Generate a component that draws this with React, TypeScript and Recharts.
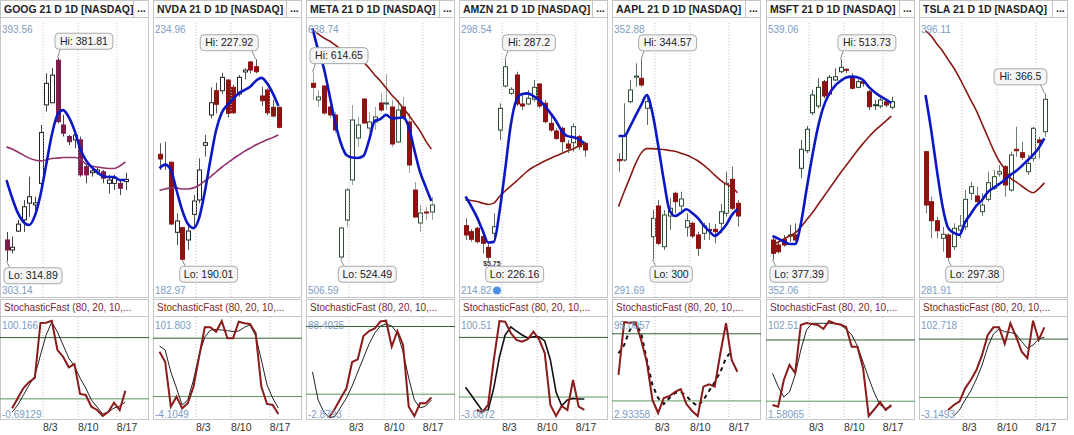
import React from 'react';
import { ComposedChart, Bar, Line, XAxis, YAxis, ReferenceLine, ReferenceDot } from 'recharts';

// ---------- shared axis data ----------
const DATE_TICKS = [6.45, 12.65, 19.5];
const DATE_LABELS = ['8/3', '8/10', '8/17'];
const X_DOMAIN: [number, number] = [-1.15, 25.18];

// ---------- GOOG ----------
const GOOG_O = [321.9, 318.6, 324.8, 328.5, 334.0, 333.4, 340.5, 366.3, 367.0, 381.0, 359.7, 355.9, 354.8, 354.8, 346.0, 344.0, 344.2, 344.3, 340.5, 340.5, 340.5, 341.1];
const GOOG_H = [324.5, 323.0, 328.5, 335.0, 342.7, 336.1, 359.7, 376.7, 378.4, 381.81, 363.0, 356.4, 357.5, 355.9, 347.1, 345.5, 346.0, 344.9, 343.3, 343.3, 341.6, 344.0];
const GOOG_L = [314.89, 317.5, 324.5, 324.5, 329.5, 331.7, 339.4, 364.1, 366.9, 360.3, 355.9, 353.1, 352.0, 342.7, 340.5, 342.7, 343.3, 340.5, 337.2, 338.3, 336.7, 338.3];
const GOOG_C = [318.6, 319.5, 327.1, 332.8, 336.1, 334.1, 357.2, 373.4, 376.1, 360.8, 357.0, 354.2, 356.4, 343.3, 343.3, 344.6, 344.9, 342.2, 341.6, 342.2, 338.9, 341.8];
const GOOG_FAST = [341.6, 335.7, 330.8, 327.8, 326.8, 329.8, 336.7, 346.5, 356.4, 363.0, 364.6, 362.3, 358.0, 352.1, 348.2, 345.9, 344.2, 342.9, 342.6, 342.6, 341.6, 341.6];
const GOOG_SLOW = [352.5, 351.8, 350.8, 349.8, 348.8, 348.2, 347.9, 348.2, 348.7, 348.8, 349.0, 349.0, 349.0, 348.5, 346.9, 346.2, 345.9, 345.6, 345.4, 345.4, 346.2, 347.6];
const GOOG_K = [null, 10.8, 20.8, 30.6, 36.5, 40.4, 94.3, 94.6, 96.5, 67.8, 61.3, 50.9, 54.1, 24.8, 23.8, 12.3, 9.1, 3.2, 7.4, 16.2, 9.1, 28.0];
const GOOG_D = [null, 7.1, 14.0, 23.8, 33.6, 42.4, 62.9, 82.5, 95.3, 85.5, 72.7, 60.0, 52.2, 40.4, 30.6, 18.9, 12.0, 5.2, 7.1, 11.0, 13.0, 16.9];
const GOOG_RANGE = [303.14, 393.56];
const GOOG_STOCH_RANGE = [-0.69129, 100.166];

// ---------- NVDA ----------
const NVDA_O = [209.95, 207.8, 208.44, 195.2, 196.07, 193.75, 198.6, 201.31, 211.65, 217.38, 221.97, 221.97, 223.99, 222.61, 221.35, 225.51, 227.4, 226.51, 220.97, 222.1, 218.83, 218.83];
const NVDA_H = [212.03, 212.33, 208.55, 198.79, 196.26, 196.9, 202.25, 209.19, 213.6, 222.61, 223.48, 225.37, 224.13, 223.05, 224.94, 226.21, 227.6, 227.92, 222.73, 222.42, 220.21, 218.95];
const NVDA_L = [206.98, 206.98, 196.58, 192.8, 190.01, 191.86, 196.26, 200.68, 209.49, 216.75, 217.7, 221.35, 216.94, 217.57, 220.84, 224.13, 225.26, 225.26, 219.08, 217.38, 216.94, 214.86];
const NVDA_C = [209.06, 208.0, 196.77, 197.34, 190.1, 195.45, 201.12, 206.98, 212.14, 219.7, 219.4, 224.5, 217.7, 217.81, 224.5, 225.88, 225.88, 225.56, 220.08, 217.81, 217.19, 215.05];
const NVDA_FAST = [207.3, 208.0, 207.0, 203.2, 199.4, 196.8, 196.0, 197.9, 202.8, 208.9, 214.5, 217.8, 219.3, 220.4, 221.5, 222.1, 222.7, 223.8, 224.4, 223.4, 221.5, 219.1];
const NVDA_SLOW = [203.1, 203.4, 203.6, 203.6, 203.4, 203.4, 203.6, 204.1, 204.9, 205.7, 206.6, 207.5, 208.3, 209.1, 209.8, 210.5, 211.1, 211.7, 212.2, 212.7, 213.1, 213.6];
const NVDA_K = [66.1, 55.8, 9.6, 19.9, 7.9, 13.1, 30.1, 61.0, 91.2, 91.2, 86.7, 97.7, 79.9, 79.9, 97.0, 95.3, 94.6, 85.0, 30.1, 12.4, 11.3, 2.1];
const NVDA_D = [72.0, 67.9, 45.3, 28.8, 11.3, 16.5, 37.0, 62.7, 81.2, 88.4, 89.0, 88.4, 87.7, 86.9, 87.4, 91.2, 93.6, 82.3, 57.6, 31.9, 18.5, 8.2];
const NVDA_RANGE = [182.97, 234.96];
const NVDA_STOCH_RANGE = [-4.1049, 101.803];

// ---------- META ----------
const META_O = [609.28, 601.26, 607.99, 597.89, 594.05, 525.81, 543.59, 562.81, 583.0, 601.74, 587.8, 590.69, 599.82, 599.34, 597.89, 581.08, 597.89, 590.69, 558.01, 542.15, 547.44, 547.44];
const META_H = [614.65, 606.06, 608.47, 601.26, 595.49, 540.23, 558.97, 598.86, 593.09, 602.2, 595.49, 597.89, 604.62, 613.75, 601.26, 601.26, 602.7, 595.01, 561.85, 550.8, 549.84, 554.65];
const META_L = [601.26, 597.89, 594.05, 592.61, 585.4, 524.49, 540.23, 560.41, 578.67, 589.73, 585.88, 586.84, 595.49, 596.45, 578.67, 580.59, 591.65, 566.18, 544.55, 537.83, 543.59, 543.59];
const META_C = [607.36, 602.7, 595.01, 594.05, 586.84, 539.75, 558.01, 591.65, 589.24, 590.21, 590.69, 593.09, 596.45, 599.82, 580.11, 596.45, 593.09, 570.02, 545.03, 546.96, 546.96, 550.8];
const META_FAST = [635.7, 625.3, 616.6, 603.7, 590.7, 580.6, 574.8, 573.6, 573.4, 574.4, 582.0, 591.2, 592.1, 594.1, 592.4, 592.6, 592.9, 588.3, 577.2, 566.7, 559.5, 552.7];
const META_SLOW = [634.9, 633.0, 631.1, 629.6, 627.7, 625.8, 624.3, 622.9, 621.5, 619.5, 616.6, 613.3, 610.4, 607.0, 603.7, 600.8, 597.4, 594.1, 590.2, 586.4, 581.6, 577.7];
const META_K = [null, null, null, 0.0, 7.5, 16.6, 25.2, 48.5, 50.9, 71.6, 76.0, 78.2, 84.4, 85.1, 62.1, 76.0, 63.6, 8.9, 0.6, 11.9, 11.9, 17.2];
const META_D = [39.7, 14.8, 4.2, -1.0, 0.6, 8.6, 16.6, 27.2, 39.7, 52.1, 64.5, 74.2, 80.4, 82.2, 80.4, 74.2, 57.4, 34.3, 14.8, 7.8, 9.5, 14.8];
const META_RANGE = [506.59, 638.74];
const META_STOCH_RANGE = [-2.8793, 88.4025];

// ---------- AMZN ----------
const AMZN_O = [236.53, 234.7, 235.74, 233.18, 229.95, 234.21, 265.66, 279.06, 276.83, 282.41, 273.58, 273.58, 275.01, 279.67, 273.79, 267.7, 265.36, 266.18, 261.4, 261.8, 263.62, 261.61];
const AMZN_H = [238.78, 235.43, 236.22, 234.21, 231.17, 240.3, 273.79, 287.2, 278.66, 283.41, 276.83, 277.84, 280.88, 279.88, 274.79, 270.23, 266.18, 266.67, 262.62, 267.7, 264.14, 262.1];
const AMZN_L = [232.17, 231.66, 231.17, 228.12, 226.16, 232.17, 262.62, 278.66, 276.32, 272.97, 271.75, 273.27, 274.28, 272.27, 267.7, 265.14, 262.62, 259.06, 258.57, 259.06, 259.57, 257.53];
const AMZN_C = [233.7, 232.39, 231.66, 231.17, 226.91, 236.22, 272.27, 284.93, 278.05, 273.58, 272.97, 275.31, 278.66, 272.97, 268.19, 265.66, 263.13, 262.1, 260.09, 266.67, 260.58, 259.57];
const AMZN_FAST = [245.4, 242.5, 239.2, 235.2, 231.4, 231.6, 240.7, 253.5, 267.2, 274.8, 276.6, 276.8, 276.0, 274.8, 273.0, 270.8, 268.4, 265.4, 263.8, 263.5, 262.9, 261.6];
const AMZN_SLOW = [244.4, 244.2, 243.9, 243.4, 243.0, 243.4, 245.4, 247.1, 248.6, 250.1, 251.7, 253.2, 254.4, 255.3, 256.2, 257.0, 257.8, 258.5, 259.3, 259.9, 260.8, 261.6];
const AMZN_K = [null, null, 7.0, 5.0, 12.1, 57.3, 96.5, 95.8, 84.4, 77.4, 75.7, 78.1, 85.7, 78.1, 64.3, 12.1, 1.0, 11.1, 7.0, 37.2, 10.4, 7.0];
const AMZN_D = [29.9, 22.1, 14.1, 6.0, 7.0, 29.2, 60.3, 82.4, 90.5, 86.4, 82.4, 79.4, 80.7, 80.7, 76.4, 57.3, 25.1, 11.1, 17.1, 18.6, 18.1, 18.1];
const AMZN_RANGE = [214.82, 298.54];
const AMZN_STOCH_RANGE = [-3.0872, 100.51];
const AMZN_NOTE = '$5.75';

// ---------- AAPL ----------
const AAPL_O = [322.3, 322.17, 335.15, 340.58, 340.35, 333.68, 305.11, 311.94, 302.88, 309.71, 314.76, 311.94, 307.2, 308.09, 305.49, 305.86, 306.71, 306.75, 308.09, 310.31, 317.88, 312.54];
const AAPL_H = [323.66, 334.79, 339.97, 343.69, 344.57, 336.26, 311.05, 313.27, 311.05, 313.65, 315.12, 315.12, 310.31, 308.45, 306.22, 308.22, 308.16, 307.93, 312.38, 319.57, 320.68, 313.27];
const AAPL_L = [319.57, 321.8, 334.79, 338.48, 338.48, 329.96, 300.0, 303.26, 302.15, 306.6, 310.31, 310.31, 305.11, 304.75, 300.81, 304.37, 304.37, 303.64, 305.86, 309.56, 311.05, 307.33];
const AAPL_C = [322.0, 327.51, 337.75, 340.86, 338.86, 335.15, 309.2, 303.64, 309.94, 311.43, 312.9, 313.5, 308.67, 305.26, 302.53, 307.49, 306.49, 306.22, 310.67, 316.99, 311.43, 309.71];
const AAPL_FAST = [327.5, 327.5, 329.5, 332.0, 334.4, 336.6, 332.6, 325.5, 317.7, 311.1, 309.7, 310.4, 311.2, 310.4, 309.3, 307.7, 306.4, 305.3, 306.2, 307.7, 309.9, 311.2];
const AAPL_SLOW = [311.8, 315.1, 318.2, 321.3, 323.7, 324.7, 324.7, 324.6, 324.5, 324.3, 324.1, 323.7, 323.3, 322.7, 322.0, 321.1, 320.0, 318.8, 317.7, 316.8, 316.2, 314.9];
const AAPL_K = [43.2, 90.5, 89.6, 90.5, 74.4, 54.8, 20.8, 9.2, 22.6, 24.4, 28.0, 30.6, 17.2, 11.0, 6.5, 32.7, 34.8, 32.7, 62.6, 89.4, 56.6, 46.1];
const AAPL_D = [62.6, 70.0, 83.4, 89.6, 80.7, 56.6, 34.2, 22.6, 17.2, 22.6, 27.1, 28.0, 24.4, 19.0, 15.4, 20.8, 28.9, 36.9, 45.8, 58.4, 64.6, null];
const AAPL_RANGE = [291.69, 352.88];
const AAPL_STOCH_RANGE = [2.93358, 95.0057];

// ---------- MSFT ----------
const MSFT_O = [390.82, 387.42, 391.3, 393.88, 394.22, 439.58, 451.54, 477.38, 481.94, 498.46, 490.1, 499.62, 505.26, 506.9, 501.86, 494.66, 498.46, 491.66, 482.42, 481.94, 484.86, 481.06];
const MSFT_H = [391.98, 389.66, 394.22, 401.02, 402.18, 458.82, 468.34, 492.82, 500.78, 499.62, 503.02, 507.58, 513.73, 507.58, 504.18, 500.1, 500.1, 492.82, 486.02, 487.18, 486.02, 488.26];
const MSFT_L = [377.39, 381.78, 386.26, 389.66, 389.66, 432.78, 449.78, 475.82, 480.38, 487.18, 488.74, 498.9, 504.18, 504.18, 493.3, 493.98, 495.06, 479.22, 479.22, 480.38, 481.06, 479.7];
const MSFT_C = [381.78, 382.86, 387.42, 394.22, 390.82, 452.5, 466.1, 489.42, 494.66, 488.74, 501.46, 501.86, 508.26, 506.22, 493.98, 498.46, 497.38, 481.46, 482.82, 486.02, 482.62, 484.86];
const MSFT_FAST = [393.5, 391.8, 389.8, 388.1, 388.1, 401.7, 424.8, 447.3, 467.0, 481.3, 490.1, 495.5, 498.9, 501.3, 501.9, 501.5, 499.6, 494.9, 491.5, 488.7, 486.4, 483.8];
const MSFT_SLOW = [387.4, 389.5, 391.5, 393.5, 395.6, 399.7, 404.4, 409.2, 414.6, 420.1, 425.5, 430.9, 436.4, 441.5, 446.6, 451.7, 456.4, 460.9, 464.9, 468.3, 471.7, 475.1];
const MSFT_K = [16.3, 14.6, 40.8, 55.5, 47.6, 94.7, 96.6, 95.7, 94.7, 90.8, 98.6, 96.2, 95.2, 92.7, 73.4, 73.4, 52.5, 5.5, 12.1, 19.2, 11.4, 16.3];
const MSFT_D = [47.3, 34.2, 24.1, 29.0, 45.7, 70.2, 89.8, 96.3, 96.3, 96.3, 96.3, 96.3, 94.7, 90.8, 84.9, 74.1, 58.4, 42.7, 28.0, 16.3, 13.0, 14.6];
const MSFT_RANGE = [352.06, 539.06];
const MSFT_STOCH_RANGE = [1.58065, 102.51];

// ---------- TSLA ----------
const TSLA_O = [342.25, 321.49, 313.59, 306.29, 307.66, 302.8, 309.73, 311.1, 324.97, 323.85, 317.33, 322.48, 327.05, 332.99, 336.02, 326.34, 343.25, 341.83, 333.94, 339.51, 347.11, 350.55];
const TSLA_H = [342.66, 323.56, 315.26, 311.1, 308.36, 312.52, 315.96, 326.34, 329.79, 327.71, 324.97, 333.94, 334.65, 336.73, 336.73, 342.25, 352.63, 346.4, 340.88, 352.63, 348.48, 366.5];
const TSLA_L = [316.67, 306.29, 306.29, 300.72, 297.38, 301.43, 306.29, 309.73, 322.19, 320.82, 315.55, 321.49, 326.34, 331.87, 323.56, 325.64, 340.17, 338.8, 332.57, 338.1, 339.51, 348.48];
const TSLA_C = [320.11, 313.59, 309.44, 307.95, 298.4, 310.44, 311.39, 322.48, 327.71, 321.49, 320.11, 329.38, 331.87, 333.94, 328.42, 340.88, 342.66, 339.92, 337.43, 351.97, 345.99, 364.01];
const TSLA_FAST = [365.8, 351.3, 334.7, 319.7, 310.6, 308.5, 307.7, 313.0, 316.4, 319.9, 322.2, 325.5, 327.2, 328.8, 330.5, 332.6, 334.2, 336.3, 338.6, 340.9, 343.8, 347.8];
const TSLA_SLOW = [392.4, 390.3, 387.0, 384.1, 380.5, 377.0, 372.9, 368.3, 363.7, 359.2, 353.8, 348.4, 343.0, 338.4, 335.1, 331.3, 329.7, 328.0, 326.3, 325.2, 326.8, 329.3];
const TSLA_K = [null, null, null, null, 7.1, 12.3, 15.7, 29.4, 38.0, 48.2, 63.7, 84.2, 92.1, 92.1, 75.0, 96.2, 82.5, 67.1, 60.3, 98.9, 79.1, 92.1];
const TSLA_D = [null, null, null, null, null, 1.0, 7.1, 17.4, 26.7, 39.0, 53.4, 71.9, 85.2, 90.4, 87.6, 86.8, 85.2, 77.3, 70.6, 73.9, 80.1, 82.0];
const TSLA_RANGE = [281.91, 396.11];
const TSLA_STOCH_RANGE = [-3.1493, 102.718];

// ---------- panel table built from the arrays ----------
const PANELS = [
  { title: 'GOOG 21 D 1D [NASDAQ]', o: GOOG_O, h: GOOG_H, l: GOOG_L, c: GOOG_C, fast: GOOG_FAST, slow: GOOG_SLOW, k: GOOG_K, d: GOOG_D, range: GOOG_RANGE, sRange: GOOG_STOCH_RANGE, down: '#7c1d4c', slowColor: '#93346c', up: '#222', wick: '#444', dMode: 'thin', note: null },
  { title: 'NVDA 21 D 1D [NASDAQ]', o: NVDA_O, h: NVDA_H, l: NVDA_L, c: NVDA_C, fast: NVDA_FAST, slow: NVDA_SLOW, k: NVDA_K, d: NVDA_D, range: NVDA_RANGE, sRange: NVDA_STOCH_RANGE, down: '#8e1212', slowColor: '#93306e', up: '#222', wick: '#555', dMode: 'thin', note: null },
  { title: 'META 21 D 1D [NASDAQ]', o: META_O, h: META_H, l: META_L, c: META_C, fast: META_FAST, slow: META_SLOW, k: META_K, d: META_D, range: META_RANGE, sRange: META_STOCH_RANGE, down: '#8e1212', slowColor: '#8b1a14', up: '#2f4f35', wick: '#9aa59a', dMode: 'thin', note: null },
  { title: 'AMZN 21 D 1D [NASDAQ]', o: AMZN_O, h: AMZN_H, l: AMZN_L, c: AMZN_C, fast: AMZN_FAST, slow: AMZN_SLOW, k: AMZN_K, d: AMZN_D, range: AMZN_RANGE, sRange: AMZN_STOCH_RANGE, down: '#8e1212', slowColor: '#8b1a14', up: '#2f4f35', wick: '#5f6f5f', dMode: 'bold', note: AMZN_NOTE },
  { title: 'AAPL 21 D 1D [NASDAQ]', o: AAPL_O, h: AAPL_H, l: AAPL_L, c: AAPL_C, fast: AAPL_FAST, slow: AAPL_SLOW, k: AAPL_K, d: AAPL_D, range: AAPL_RANGE, sRange: AAPL_STOCH_RANGE, down: '#8e1212', slowColor: '#8b1a14', up: '#2f4f35', wick: '#5f6f5f', dMode: 'dash', note: null },
  { title: 'MSFT 21 D 1D [NASDAQ]', o: MSFT_O, h: MSFT_H, l: MSFT_L, c: MSFT_C, fast: MSFT_FAST, slow: MSFT_SLOW, k: MSFT_K, d: MSFT_D, range: MSFT_RANGE, sRange: MSFT_STOCH_RANGE, down: '#8e1212', slowColor: '#8b1a14', up: '#1f3f25', wick: '#4f5f4f', dMode: 'thin', note: null },
  { title: 'TSLA 21 D 1D [NASDAQ]', o: TSLA_O, h: TSLA_H, l: TSLA_L, c: TSLA_C, fast: TSLA_FAST, slow: TSLA_SLOW, k: TSLA_K, d: TSLA_D, range: TSLA_RANGE, sRange: TSLA_STOCH_RANGE, down: '#8e1212', slowColor: '#8b1a14', up: '#2f4f35', wick: '#6f7f6f', dMode: 'thin', note: null },
];

const PANEL_W = 149;
const PANEL_PITCH = 153.1;
const BORDER = '#c6c6c6';
const FONT = '"Liberation Sans", Arial, Helvetica, sans-serif';

function Candle(props: any) {
  const { x, y, width, height, payload, up, down, wick } = props;
  if (!payload) return null;
  const top = Math.min(y, y + height);
  const bot = Math.max(y, y + height);
  const span = payload.h - payload.l || 1;
  const pix = (v: number) => top + ((payload.h - v) / span) * (bot - top);
  const cx = Math.round(x + width / 2) + 0.5;
  const po = pix(payload.o);
  const pc = pix(payload.c);
  const isUp = payload.c >= payload.o;
  const bTop = Math.min(po, pc);
  const bH = Math.max(1, Math.abs(po - pc));
  return (
    <g>
      <line x1={cx} y1={top} x2={cx} y2={bot} stroke={wick} strokeWidth={1} />
      <rect
        x={cx - 2}
        y={bTop}
        width={4}
        height={bH}
        fill={isUp ? '#ffffff' : down}
        stroke={isUp ? up : down}
        strokeWidth={1}
      />
    </g>
  );
}

function Callout(props: any) {
  const { cx, cy, text, kind, side, note } = props;
  if (cx == null || cy == null) return null;
  const w = text.length * 5.2 + 6;
  const hgt = 16;
  const top = kind === 'hi' ? cy - 9 - hgt : cy + 6;
  const left = side === 'right' ? cx - 3 : cx - w + 2;
  const tailX = side === 'right' ? left + 6 : left + w - 6;
  const tailY = kind === 'hi' ? top + hgt : top;
  return (
    <g>
      {note ? (
        <text x={cx - 5} y={cy + 6} fontSize={7} fontWeight="bold" fill="#333" fontFamily={FONT}>
          {note}
        </text>
      ) : null}
      <line x1={cx} y1={cy} x2={tailX} y2={tailY} stroke="#8a8a8a" strokeWidth={1} />
      <rect x={left + 0.5} y={top + 0.5} width={w} height={hgt} rx={4} ry={4} fill="#f6f6f6" stroke="#a8a8a8" />
      <text x={left + w / 2 + 0.5} y={top + 12} textAnchor="middle" fontSize={10.5} fill="#222" fontFamily={FONT}>
        {text}
      </text>
    </g>
  );
}

// range label drawn at the scale position of the range value
function RangeLabel(props: any) {
  const { cy, text, dy, icon } = props;
  if (cy == null) return null;
  return (
    <g>
      <text x={2} y={cy + dy} fontSize={10} fill="#7d9cc2" fontFamily={FONT}>
        {text}
      </text>
      {icon ? <circle cx={38} cy={cy + dy - 3.5} r={4.5} fill="#4a90e2" stroke="#ffffff" strokeWidth={1} /> : null}
    </g>
  );
}

function DateTick(props: any) {
  const { x, payload } = props;
  const idx = DATE_TICKS.indexOf(payload.value);
  return (
    <text x={x} y={116} fontSize={10.5} fill="#333" fontFamily={FONT}>
      {DATE_LABELS[idx]}
    </text>
  );
}

function Panel({ p, index }: { p: any; index: number }) {
  const left = Math.round(index * PANEL_PITCH);
  const rows = p.o.map((_: number, i: number) => ({
    i,
    o: p.o[i],
    h: p.h[i],
    l: p.l[i],
    c: p.c[i],
    hl: [p.l[i], p.h[i]],
    fast: p.fast[i],
    slow: p.slow[i],
    k: p.k[i],
    d: p.d[i],
  }));
  const hiVal = Math.max(...p.h);
  const loVal = Math.min(...p.l);
  const hiIdx = p.h.indexOf(hiVal);
  const loIdx = p.l.indexOf(loVal);
  const hiSide = hiIdx > 14 ? 'left' : 'right';

  const dStroke = p.dMode === 'bold' ? '#111' : p.dMode === 'dash' ? '#111' : '#222';
  const dWidth = p.dMode === 'bold' ? 1.6 : p.dMode === 'dash' ? 2 : 1;
  const dDash = p.dMode === 'dash' ? '4 4' : undefined;

  return (
    <div style={{ position: 'absolute', left, top: 0, width: PANEL_W, height: 435 }}>
      {/* main header */}
      <div
        style={{
          position: 'absolute', left: 0, top: 0, width: PANEL_W, height: 18, boxSizing: 'border-box',
          border: `1px solid ${BORDER}`, background: '#fff', fontFamily: FONT,
        }}
      >
        <div style={{ position: 'absolute', left: 3, top: 2, fontSize: 10.5, fontWeight: 'bold', color: '#222', whiteSpace: 'nowrap' }}>
          {p.title}
        </div>
        <div style={{ position: 'absolute', left: 132, top: 0, width: 15, height: 16, borderLeft: `1px solid ${BORDER}` }}>
          <div style={{ position: 'absolute', left: 3, top: 1, fontSize: 10.5, fontWeight: 'bold', color: '#222' }}>...</div>
        </div>
      </div>
      {/* main box */}
      <div
        style={{
          position: 'absolute', left: 0, top: 17, width: PANEL_W, height: 281, boxSizing: 'border-box',
          border: `1px solid ${BORDER}`, background: '#fff',
        }}
      />
      <div style={{ position: 'absolute', left: 0, top: 18 }}>
        <ComposedChart width={PANEL_W} height={280} data={rows} margin={{ top: 4, right: 0, bottom: 1, left: 0 }}>
          <XAxis dataKey="i" type="number" domain={X_DOMAIN} allowDataOverflow hide />
          <YAxis type="number" domain={p.range} allowDataOverflow hide />
          {DATE_TICKS.map((t) => (
            <ReferenceLine key={t} x={t} stroke="#c4c4c4" strokeDasharray="1 2" />
          ))}
          <ReferenceDot x={X_DOMAIN[0]} y={p.range[1]} r={0} ifOverflow="visible"
            shape={(sp: any) => <RangeLabel {...sp} text={String(p.range[1])} dy={10.5} />} />
          <Line dataKey="slow" type="monotone" stroke={p.slowColor} strokeWidth={1.6} dot={false} isAnimationActive={false} />
          <Bar
            dataKey="hl"
            barSize={4}
            isAnimationActive={false}
            shape={(bp: any) => <Candle {...bp} up={p.up} down={p.down} wick={p.wick} />}
          />
          <Line dataKey="fast" type="monotone" stroke="#0c18c4" strokeWidth={2.6} dot={false} isAnimationActive={false} />
          <ReferenceDot x={X_DOMAIN[0]} y={p.range[0]} r={0} ifOverflow="visible"
            shape={(sp: any) => <RangeLabel {...sp} text={String(p.range[0])} dy={-3} icon={!!p.note} />} />
          <ReferenceDot
            x={hiIdx}
            y={hiVal}
            r={0}
            ifOverflow="visible"
            shape={(sp: any) => <Callout {...sp} text={`Hi: ${hiVal}`} kind="hi" side={hiSide} />}
          />
          <ReferenceDot
            x={loIdx}
            y={loVal}
            r={0}
            ifOverflow="visible"
            shape={(sp: any) => <Callout {...sp} text={`Lo: ${loVal}`} kind="lo" side="right" note={p.note} />}
          />
        </ComposedChart>
      </div>
      {/* stochastic header */}
      <div
        style={{
          position: 'absolute', left: 0, top: 299, width: PANEL_W, height: 18, boxSizing: 'border-box',
          border: `1px solid ${BORDER}`, background: '#fff', fontFamily: FONT,
        }}
      >
        <div style={{ position: 'absolute', left: 3, top: 2, fontSize: 10, color: '#7a1f2c', whiteSpace: 'nowrap' }}>
          StochasticFast (80, 20, 10,...
        </div>
      </div>
      {/* stochastic box */}
      <div
        style={{
          position: 'absolute', left: 0, top: 317, width: PANEL_W, height: 103, boxSizing: 'border-box',
          border: `1px solid ${BORDER}`, borderTop: 'none', background: '#fff',
        }}
      />
      <div style={{ position: 'absolute', left: 0, top: 315 }}>
        <ComposedChart width={PANEL_W} height={120} data={rows} margin={{ top: 2, right: 0, bottom: 0, left: 0 }}>
          <XAxis
            dataKey="i"
            type="number"
            domain={X_DOMAIN}
            allowDataOverflow
            ticks={DATE_TICKS}
            interval={0}
            height={15}
            axisLine={false}
            tickLine={false}
            tick={(tp: any) => <DateTick {...tp} />}
          />
          <YAxis type="number" domain={p.sRange} allowDataOverflow hide />
          {DATE_TICKS.map((t) => (
            <ReferenceLine key={t} x={t} stroke="#c4c4c4" strokeDasharray="1 2" />
          ))}
          <ReferenceLine y={80} stroke="#2f5f2f" strokeWidth={1} />
          <ReferenceLine y={20} stroke="#5e985e" strokeWidth={1} />
          <ReferenceDot x={X_DOMAIN[0]} y={p.sRange[1]} r={0} ifOverflow="visible"
            shape={(sp: any) => <RangeLabel {...sp} text={String(p.sRange[1])} dy={11.5} />} />
          <ReferenceDot x={X_DOMAIN[0]} y={p.sRange[0]} r={0} ifOverflow="visible"
            shape={(sp: any) => <RangeLabel {...sp} text={String(p.sRange[0])} dy={-2.5} />} />
          <Line dataKey="d" type="linear" stroke={dStroke} strokeWidth={dWidth} strokeDasharray={dDash} dot={false} isAnimationActive={false} />
          <Line dataKey="k" type="linear" stroke="#8b1a1a" strokeWidth={2} dot={false} isAnimationActive={false} />
        </ComposedChart>
      </div>
    </div>
  );
}

export default function App() {
  return (
    <div style={{ position: 'relative', width: 1074, height: 435, background: '#fff', fontFamily: FONT, overflow: 'hidden' }}>
      <style>{'body{margin:0;}'}</style>
      {PANELS.map((p, i) => (
        <Panel key={p.title} p={p} index={i} />
      ))}
    </div>
  );
}
